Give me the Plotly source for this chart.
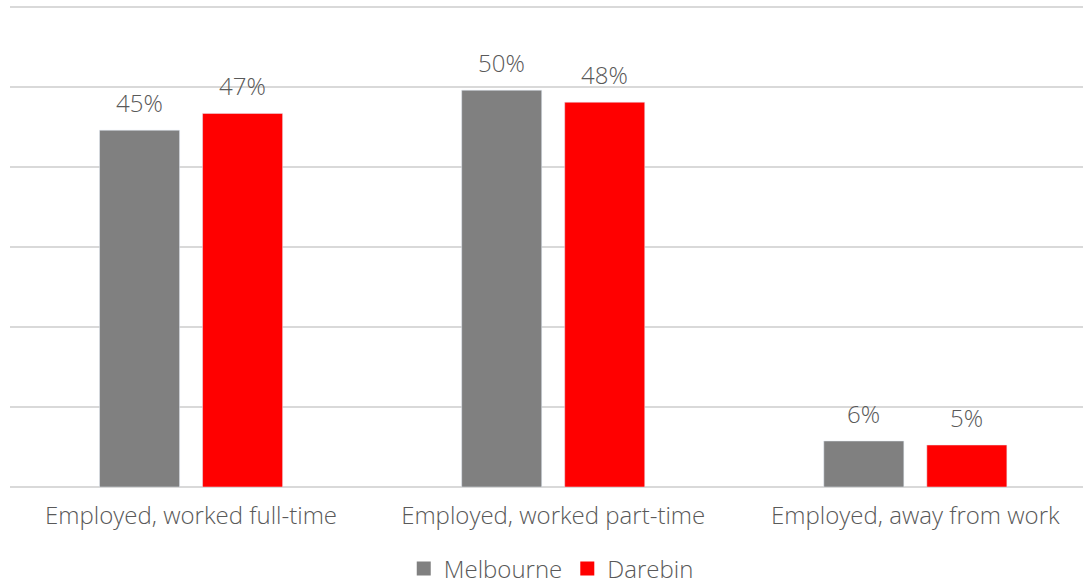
import plotly.graph_objects as go

categories = ["Employed, worked full-time", "Employed, worked part-time", "Employed, away from work"]
melbourne = [44.6, 49.6, 5.75]
darebin = [46.7, 48.1, 5.25]
melbourne_labels = ["45%", "50%", "6%"]
darebin_labels = ["47%", "48%", "5%"]
y_ticks = [0, 10, 20, 30, 40, 50, 60]

FONT = "Open Sans"
TXT = "#595959"
W = 300
SZ = 24

fig = go.Figure()
fig.add_trace(go.Bar(name="Melbourne", x=categories, y=melbourne, marker_color="#808080",
                     showlegend=False, offsetgroup="m"))
fig.add_trace(go.Bar(name="Darebin", x=categories, y=darebin, marker_color="#FF0000",
                     showlegend=False, offsetgroup="d"))
# legend entries
fig.add_trace(go.Scatter(name="Melbourne", x=[None], y=[None], mode="markers",
                         marker=dict(symbol="square", size=14, color="#808080")))
fig.add_trace(go.Scatter(name="Darebin", x=[None], y=[None], mode="markers",
                         marker=dict(symbol="square", size=14, color="#FF0000")))

# data labels
slot = (1 - 0.431) / 2
for i, c in enumerate(categories):
    fig.add_annotation(x=i - slot / 2, y=melbourne[i], text=melbourne_labels[i], showarrow=False,
                       yanchor="bottom", yshift=9, xref="x", yref="y",
                       font=dict(family=FONT, size=SZ, color=TXT, weight=W))
    fig.add_annotation(x=i + slot / 2, y=darebin[i], text=darebin_labels[i], showarrow=False,
                       yanchor="bottom", yshift=9, xref="x", yref="y",
                       font=dict(family=FONT, size=SZ, color=TXT, weight=W))

fig.update_layout(
    width=1083, height=584,
    margin=dict(l=10, r=0, t=5, b=97),
    paper_bgcolor="white", plot_bgcolor="white",
    barmode="group", bargap=0.431, bargroupgap=0.223,
    font=dict(family=FONT, size=SZ, color=TXT, weight=W),
    showlegend=True,
    legend=dict(orientation="h", x=0.509, xanchor="center", xref="container",
                y=0.026, yanchor="middle", yref="container",
                font=dict(family=FONT, size=SZ, color=TXT, weight=W),
                itemwidth=30, tracegroupgap=0),
    xaxis=dict(range=[-0.5, 2.463], showgrid=False, showline=False, ticks="",
               automargin=False, ticklabelstandoff=12,
               tickfont=dict(family=FONT, size=SZ, color=TXT, weight=W)),
    yaxis=dict(range=[0, 60.25], tickvals=y_ticks, showticklabels=False, showgrid=True,
               gridcolor="#D9D9D9", gridwidth=2, zeroline=True, zerolinecolor="#D9D9D9",
               zerolinewidth=2, fixedrange=True, automargin=False),
)
fig.write_html("out.html")
